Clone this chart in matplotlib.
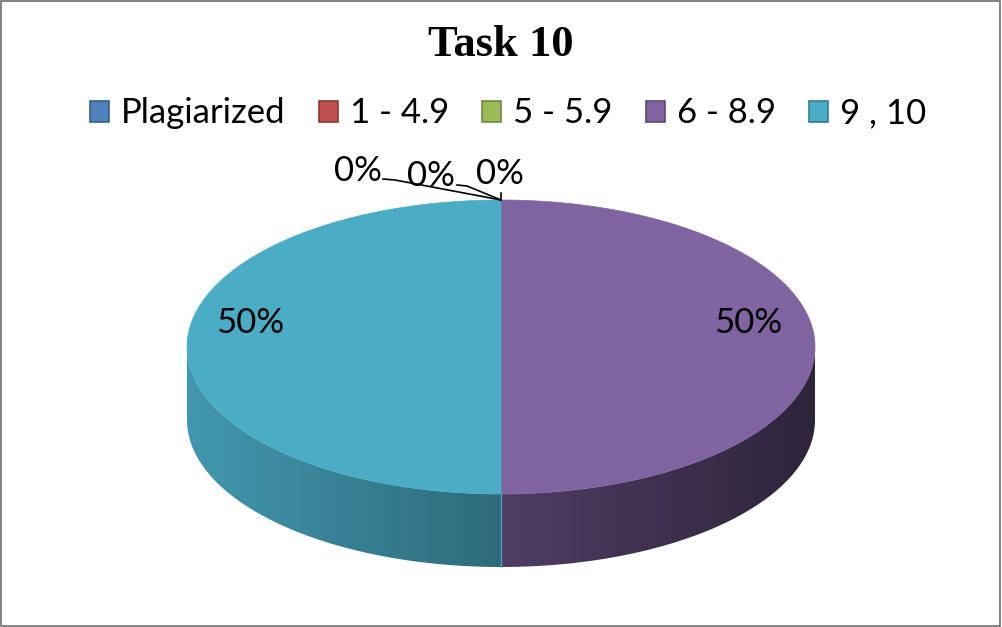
import numpy as np
import matplotlib.pyplot as plt
from matplotlib.colors import to_rgb
from matplotlib.patches import Polygon, Patch, Rectangle

# data
categories = ["Plagiarized", "1 - 4.9", "5 - 5.9", "6 - 8.9", "9 , 10"]
values = [0, 0, 0, 1, 1]
colors = ["#4F81BD", "#C0504D", "#9BBB59", "#8064A2", "#4BACC6"]
edge_colors = ["#385D8A", "#8C3836", "#71893F", "#5C4776", "#357D91"]

# layout of the 3d pie, in pixels
cx, cy = 501, 347
rx, ry = 314, 147
depth = 73

LABEL_FONT = "Lato"
LABEL_SIZE = 25


def pt(theta_deg, dy=0.0):
    t = np.radians(theta_deg)
    return cx + rx * np.sin(t), cy - ry * np.cos(t) + dy


def shade(x):
    # side wall gets darker from left to right
    f = (x - (cx - rx)) / (2 * rx)
    return 0.88 - 0.52 * f


def main():
    fig = plt.figure(figsize=(10.02, 6.27), dpi=100)
    ax = fig.add_axes([0, 0, 1, 1])

    total = sum(values)
    starts = np.concatenate([[0], np.cumsum(values)[:-1]]) / total * 360
    ends = np.cumsum(values) / total * 360

    # side walls (front half only), gradient clipped to the wall shape
    for a1, a2, c in zip(starts, ends, colors):
        lo, hi = max(a1, 90), min(a2, 270)
        if hi <= lo:
            continue
        th = np.linspace(lo, hi, 200)
        top = [pt(t) for t in th]
        bot = [pt(t, depth) for t in th[::-1]]
        wall = Polygon(top + bot, closed=True, facecolor="none", edgecolor="none")
        ax.add_patch(wall)
        xs = [p[0] for p in top]
        x0, x1 = min(xs), max(xs)
        ys = [p[1] for p in top + bot]
        y0, y1 = min(ys), max(ys)
        gx = np.linspace(x0, x1, 300)
        base = np.array(to_rgb(c))
        img = np.clip(base[None, None, :] * shade(gx)[None, :, None], 0, 1)
        img = np.repeat(img, 2, axis=0)
        im = ax.imshow(img, extent=[x0, x1, y1, y0], aspect="auto",
                       interpolation="bilinear", origin="upper")
        im.set_clip_path(wall)

    # top faces
    for a1, a2, c in zip(starts, ends, colors):
        if a2 <= a1:
            continue
        th = np.linspace(a1, a2, 200)
        pts = [(cx, cy)] + [pt(t) for t in th]
        ax.add_patch(Polygon(pts, closed=True, facecolor=c, edgecolor=c, lw=0.5))

    # slice seam down the front
    for a in starts:
        if 90 < a < 270:
            x, y = pt(a)
            ax.plot([x, x], [y, y + depth], color="#4BACC6", lw=0.8)

    # percentage labels
    pct = [f"{v / total:.0%}" for v in values]
    big_pos = {3: (748, 323), 4: (250, 323)}
    for i, (x, y) in big_pos.items():
        ax.text(x, y, pct[i], ha="center", va="center", fontsize=LABEL_SIZE,
                family=LABEL_FONT)

    zero_pos = [(358, 171), (431, 176), (500, 174)]
    zero_lines = [[(383, 179), (395, 180)], [(457, 185), (467, 186)], [(501, 193)]]
    for i, ((lx, ly), ln) in enumerate(zip(zero_pos, zero_lines)):
        ax.text(lx, ly, pct[i], ha="center", va="center", fontsize=LABEL_SIZE,
                family=LABEL_FONT)
        ax_x, ax_y = pt((starts[i] + ends[i]) / 2)
        xs = [p[0] for p in ln] + [ax_x]
        ys = [p[1] for p in ln] + [ax_y]
        ax.plot(xs, ys, color="black", lw=1.2)

    # title
    ax.text(501, 45, "Task 10", ha="center", va="center", fontsize=32,
            fontweight="bold", family="Liberation Serif")

    # legend
    handles = [Patch(facecolor=c, edgecolor=e, lw=1.2) for c, e in zip(colors, edge_colors)]
    ax.legend(handles, categories, loc="center", bbox_to_anchor=(0.507, 0.819),
              ncol=5, frameon=False, prop={"family": LABEL_FONT, "size": LABEL_SIZE},
              handlelength=0.55, handleheight=0.55, handletextpad=0.35,
              columnspacing=0.95, borderpad=0)

    ax.set_xlim(0, 1002)
    ax.set_ylim(627, 0)
    ax.axis("off")

    # chart border
    fig.patches.append(Rectangle((0.0005, 0.001), 0.998, 0.997, transform=fig.transFigure,
                                 fill=False, edgecolor="#6e6e6e", lw=1.2))

    fig.savefig("out.png", dpi=100)


if __name__ == "__main__":
    main()
